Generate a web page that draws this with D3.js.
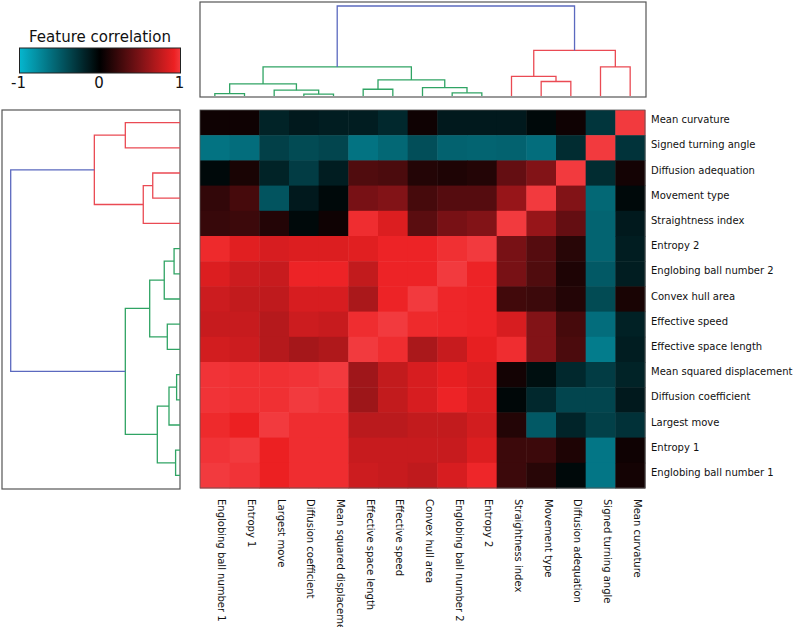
<!DOCTYPE html>
<html><head><meta charset="utf-8">
<script src="https://cdn.jsdelivr.net/npm/d3@7"></script>
<style>body{margin:0;background:#fff}svg{display:block}</style>
</head><body><svg id="c" width="798" height="627"></svg>
<script>
const rowLabels = ["Mean curvature","Signed turning angle","Diffusion adequation","Movement type","Straightness index","Entropy 2","Englobing ball number 2","Convex hull area","Effective speed","Effective space length","Mean squared displacement","Diffusion coefficient","Largest move","Entropy 1","Englobing ball number 1"];
const colLabels = ["Englobing ball number 1","Entropy 1","Largest move","Diffusion coefficient","Mean squared displacement","Effective space length","Effective speed","Convex hull area","Englobing ball number 2","Entropy 2","Straightness index","Movement type","Diffusion adequation","Signed turning angle","Mean curvature"];
const corr = [
 [0.06,0.06,-0.19,-0.14,-0.16,-0.16,-0.22,0.06,-0.14,-0.14,-0.14,-0.05,0.06,-0.29,1],
 [-0.63,-0.60,-0.35,-0.41,-0.38,-0.63,-0.57,-0.43,-0.54,-0.55,-0.54,-0.60,-0.24,1,-0.28],
 [-0.05,0.10,-0.19,-0.33,-0.16,0.32,0.30,0.14,0.12,0.14,0.40,0.52,1,-0.24,0.08],
 [0.20,0.28,-0.46,-0.14,-0.05,0.48,0.52,0.28,0.34,0.34,0.60,1,0.52,-0.57,-0.05],
 [0.22,0.24,0.14,-0.05,0.06,0.96,0.86,0.36,0.48,0.52,1,0.60,0.40,-0.55,-0.14],
 [0.95,0.88,0.84,0.86,0.86,0.88,0.93,0.93,0.97,1,0.48,0.34,0.16,-0.55,-0.16],
 [0.86,0.80,0.78,0.93,0.93,0.76,0.93,0.93,1,0.93,0.48,0.32,0.12,-0.49,-0.16],
 [0.80,0.76,0.75,0.84,0.84,0.67,0.93,1,0.94,0.93,0.26,0.24,0.14,-0.41,0.10],
 [0.78,0.78,0.71,0.80,0.78,0.96,1,0.95,0.94,0.93,0.84,0.52,0.28,-0.60,-0.18],
 [0.82,0.80,0.71,0.65,0.69,1,0.96,0.67,0.78,0.90,0.96,0.52,0.30,-0.68,-0.16],
 [0.98,0.97,0.97,0.98,1,0.63,0.76,0.84,0.90,0.86,0.08,-0.08,-0.22,-0.33,-0.19],
 [0.98,0.97,0.97,1,0.98,0.62,0.76,0.84,0.93,0.86,-0.04,-0.22,-0.38,-0.38,-0.14],
 [0.95,0.92,1,0.96,0.96,0.73,0.73,0.76,0.76,0.82,0.14,-0.49,-0.20,-0.35,-0.27],
 [0.98,1,0.92,0.96,0.96,0.78,0.78,0.78,0.78,0.86,0.24,0.24,0.12,-0.65,0.06],
 [1,0.98,0.92,0.96,0.96,0.80,0.78,0.75,0.84,0.94,0.24,0.16,-0.05,-0.65,0.08]
];
// hierarchical linkage: [id, childA, childB, height]
const linkage = [
 ["n1","Mean curvature","Signed turning angle",0.323],
 ["n2","Diffusion adequation","Movement type",0.161],
 ["n3","n2","Straightness index",0.217],
 ["n4","n1","n3",0.506],
 ["n5","Entropy 2","Englobing ball number 2",0.035],
 ["n6","n5","Convex hull area",0.093],
 ["n7","Effective speed","Effective space length",0.075],
 ["n8","n6","n7",0.179],
 ["n9","Mean squared displacement","Diffusion coefficient",0.020],
 ["n10","n9","Largest move",0.065],
 ["n11","Entropy 1","Englobing ball number 1",0.026],
 ["n12","n10","n11",0.134],
 ["n13","n8","n12",0.323],
 ["root","n4","n13",1.0]
];
const legendTicks = [-1,0,1];
const legendTitle = "Feature correlation";

const svg = d3.select("#c");
svg.append("rect").attr("width",798).attr("height",627).attr("fill","#fff");

const color = d3.scaleLinear()
  .domain([-1,0,0.5,0.92,1])
  .range(["#05b6ce","#000000","#7d1216","#ec2022","#f23a3e"])
  .clamp(true);

const x = d3.scaleBand().domain(colLabels).range([200,645]);
const y = d3.scaleBand().domain(rowLabels).range([110,488]);

// heatmap
const cells = [];
rowLabels.forEach((r,i)=>colLabels.forEach((c,j)=>cells.push({r,c,v:corr[i][j]})));
svg.append("g").selectAll("rect").data(cells).join("rect")
  .attr("x",d=>x(d.c)).attr("y",d=>y(d.r))
  .attr("width",x.bandwidth()+0.5).attr("height",y.bandwidth()+0.5)
  .attr("fill",d=>color(d.v));
svg.append("rect").attr("x",200).attr("y",110).attr("width",445).attr("height",378)
  .attr("fill","none").attr("stroke","#555").attr("stroke-width",0.8);

// labels
const font = "DejaVu Sans";
svg.append("g").selectAll("text").data(rowLabels).join("text")
  .attr("x",651).attr("y",d=>y(d)+y.bandwidth()/2+0.5)
  .attr("font-family",font).attr("font-size",10).attr("fill","#111")
  .text(d=>d);
svg.append("g").selectAll("text").data(colLabels).join("text")
  .attr("transform",d=>`translate(${x(d)+x.bandwidth()/2+3.5},499) rotate(90)`)
  .attr("font-family",font).attr("font-size",10).attr("fill","#111")
  .text(d=>d);

// dendrograms
const byId = {}; linkage.forEach(m=>byId[m[0]]=m);
const threshold = 0.7;
const clusterPalette = ["#ea4a53","#30a464"];
const blue = "#5b69bf";
const colorOf = {}; let ci = 0;
function paint(id, c){
  const m = byId[id]; if(!m) return;
  let cc = c;
  if(!cc && m[3] <= threshold) cc = clusterPalette[ci++];
  colorOf[id] = cc || blue;
  paint(m[1], cc); paint(m[2], cc);
}
paint("root", null);

function drawDendro(g, leafPos, hScale, vertical){
  const pos = {}, ht = {};
  const p = n => (n in pos) ? pos[n] : leafPos(n);
  const h = n => (n in ht) ? ht[n] : 0;
  linkage.forEach(([id,a,b,hh])=>{
    const pa=p(a), pb=p(b), ha=hScale(h(a)), hb=hScale(h(b)), hm=hScale(hh);
    const path = vertical
      ? `M${pa},${ha}V${hm}H${pb}V${hb}`
      : `M${ha},${pa}H${hm}V${pb}H${hb}`;
    g.append("path").attr("d",path).attr("fill","none")
      .attr("stroke",colorOf[id]).attr("stroke-width",1.3);
    pos[id]=(pa+pb)/2; ht[id]=hh;
  });
}
// top dendrogram
const gTop = svg.append("g");
gTop.append("rect").attr("x",200).attr("y",2).attr("width",446).attr("height",95)
  .attr("fill","#fff").attr("stroke","#555").attr("stroke-width",1.2);
drawDendro(gTop, n=>x(n)+x.bandwidth()/2, d3.scaleLinear().domain([0,1]).range([96,6]), true);
// left dendrogram
const gLeft = svg.append("g");
gLeft.append("rect").attr("x",2).attr("y",110).attr("width",178).attr("height",379)
  .attr("fill","#fff").attr("stroke","#555").attr("stroke-width",1.2);
drawDendro(gLeft, n=>y(n)+y.bandwidth()/2, d3.scaleLinear().domain([0,1]).range([180,10.7]), false);

// legend
const lx = d3.scaleLinear().domain([-1,1]).range([19.5,180.5]);
const defs = svg.append("defs");
const grad = defs.append("linearGradient").attr("id","lg");
d3.range(0,1.0001,0.02).forEach(t=>grad.append("stop").attr("offset",t).attr("stop-color",color(-1+2*t)));
svg.append("rect").attr("x",lx(-1)).attr("y",48).attr("width",lx(1)-lx(-1)).attr("height",25)
  .attr("fill","url(#lg)").attr("stroke","#222").attr("stroke-width",1);
svg.append("text").attr("x",100).attr("y",42).attr("text-anchor","middle")
  .attr("font-family",font).attr("font-size",15).attr("fill","#111").text(legendTitle);
svg.append("g").selectAll("text").data(legendTicks).join("text")
  .attr("x",d=>lx(d)-1).attr("y",88).attr("text-anchor","middle")
  .attr("font-family",font).attr("font-size",15).attr("fill","#111")
  .text(d=>d);
</script></body></html>
